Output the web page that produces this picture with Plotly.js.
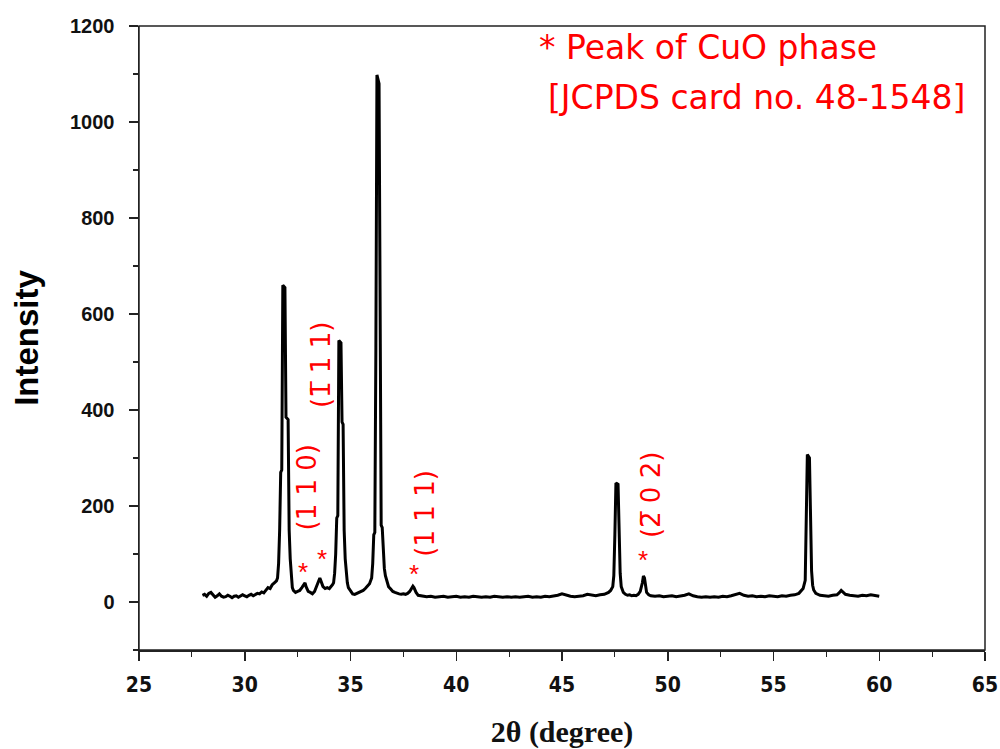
<!DOCTYPE html>
<html>
<head>
<meta charset="utf-8">
<script src="https://cdn.plot.ly/plotly-3.0.1.min.js"></script>
<style>html,body{margin:0;padding:0;background:#fff;}#chart{width:1000px;height:749px;}</style>
</head>
<body>
<div id="chart"></div>
<script>
// 2-theta positions (degree)
var twoTheta = [
 28.0,28.1,28.2,28.3,28.4,28.5,28.6,28.7,28.8,28.9,
 29.0,29.1,29.2,29.3,29.4,29.5,29.6,29.7,29.8,29.9,
 30.0,30.1,30.2,30.3,30.4,30.5,30.6,30.7,30.8,30.9,
 31.0,31.1,31.2,31.3,31.4,31.5,31.55,31.6,31.65,31.7,31.75,31.8,31.9,31.95,32.05,32.1,32.15,32.2,32.25,
 32.3,32.4,32.5,32.6,32.7,32.8,32.85,32.9,33.0,33.1,33.2,33.3,33.4,33.5,33.55,33.6,33.7,33.8,33.9,34.0,34.1,34.15,
 34.2,34.25,34.3,34.35,34.4,34.45,34.55,34.6,34.65,34.7,34.75,34.8,34.85,34.9,35.0,
 35.1,35.2,35.3,35.4,35.5,35.6,35.7,35.8,35.9,36.0,36.05,36.1,36.15,36.2,36.25,36.35,36.4,36.45,36.5,36.55,36.6,36.65,36.7,36.8,36.9,
 37.0,37.1,37.2,37.3,37.4,37.5,37.6,37.7,37.8,37.9,37.95,38.0,38.1,
 38.2,38.4,38.6,38.8,39.0,39.2,39.4,39.6,39.8,40.0,40.2,40.4,40.6,40.8,41.0,41.2,41.4,41.6,41.8,42.0,
 42.2,42.4,42.6,42.8,43.0,43.2,43.4,43.6,43.8,44.0,44.2,44.4,44.6,44.8,45.0,45.2,45.4,45.6,45.8,46.0,
 46.2,46.4,46.6,46.8,47.0,47.2,47.3,47.4,47.45,47.5,47.55,47.65,47.7,47.75,47.8,47.9,
 48.0,48.1,48.2,48.3,48.4,48.5,48.6,48.7,48.8,48.85,48.9,48.95,49.0,49.1,49.2,49.4,49.6,49.8,
 50.0,50.2,50.4,50.6,50.8,51.0,51.2,51.4,51.6,51.8,52.0,52.2,52.4,52.6,52.8,53.0,53.2,53.4,53.6,53.8,
 54.0,54.2,54.4,54.6,54.8,55.0,55.2,55.4,55.6,55.8,56.0,56.2,56.3,56.4,56.5,56.55,56.6,56.7,56.75,56.8,56.85,56.9,
 57.0,57.1,57.2,57.4,57.6,57.8,58.0,58.1,58.2,58.3,58.4,58.6,58.8,59.0,59.2,59.4,59.6,59.8,60.0
];
// Intensity (a.u.)
var intensity = [
 14,16,12,18,20,14,10,13,17,12,
 10,11,14,12,9,12,13,10,12,15,
 13,11,14,16,13,15,18,17,21,19,
 24,30,28,36,40,44,50,80,150,270,275,660,655,385,380,150,90,45,30,
 24,20,22,24,30,36,40,32,22,20,17,22,35,45,50,44,32,28,30,28,32,36,
 40,60,100,175,180,545,540,375,370,150,90,58,40,30,22,
 17,16,18,20,22,24,28,32,38,50,80,140,145,530,1098,1080,540,160,155,95,70,55,48,32,27,
 22,20,18,17,16,17,16,18,22,28,33,30,20,
 14,12,11,12,10,11,12,10,11,12,10,11,10,12,11,10,11,10,12,11,
 10,11,10,11,10,11,12,10,11,10,12,11,12,14,17,14,12,11,12,13,
 16,14,13,15,16,20,24,32,55,140,248,245,135,60,32,20,
 16,14,15,13,14,13,16,22,40,54,50,32,20,15,13,12,13,11,
 12,13,11,12,14,17,13,11,10,11,10,11,10,12,11,13,15,18,14,12,
 13,11,12,11,13,12,11,13,12,14,15,18,22,28,45,150,307,300,155,65,35,25,
 18,16,14,13,12,14,15,19,24,20,16,14,13,12,14,13,15,14,12
];

// Peak labels (CuO phase)
var starX = [32.74, 33.64, 38.0, 48.83];
var starY = [62, 90, 58, 88];
var hklText = ["(1 1 0)", "(1\u0305 1 1)", "(1 1 1)", "(2\u0305 0 2)"];
var hklX = [32.93, 33.64, 38.52, 49.24];
var hklY = [238, 493, 184, 222];

var yTicks = [0, 200, 400, 600, 800, 1000, 1200];
var xTicks = [25, 30, 35, 40, 45, 50, 55, 60, 65];

var annotations = [];
for (var i = 0; i < starX.length; i++) {
  annotations.push({x: starX[i], y: starY[i], xref: 'x', yref: 'y', text: '*', showarrow: false,
    font: {family: 'Liberation Sans, Arial, sans-serif', size: 26, color: '#ff0000'}});
}
for (var j = 0; j < hklText.length; j++) {
  annotations.push({x: hklX[j], y: hklY[j], xref: 'x', yref: 'y', text: hklText[j], showarrow: false,
    textangle: -90, font: {family: 'DejaVu Sans, sans-serif', size: 26, color: '#ff0000'}});
}
annotations.push({x: 0.471, y: 0.965, xref: 'paper', yref: 'paper', xanchor: 'left', yanchor: 'middle',
  text: '* Peak of CuO phase', showarrow: false,
  font: {family: 'DejaVu Sans, sans-serif', size: 33, color: '#ff0000'}});
annotations.push({x: 0.481, y: 0.886, xref: 'paper', yref: 'paper', xanchor: 'left', yanchor: 'middle',
  text: '[JCPDS card no. 48-1548]', showarrow: false,
  font: {family: 'DejaVu Sans, sans-serif', size: 33, color: '#ff0000'}});

var trace = {
  x: twoTheta, y: intensity, type: 'scatter', mode: 'lines',
  line: {color: '#000000', width: 3, shape: 'linear'}, showlegend: false, hoverinfo: 'skip'
};

var layout = {
  width: 1000, height: 749,
  margin: {l: 139, r: 15, t: 26, b: 99},
  paper_bgcolor: '#ffffff', plot_bgcolor: '#ffffff',
  showlegend: false,
  xaxis: {
    range: [25, 65], tickvals: xTicks, ticktext: xTicks.map(String),
    ticks: 'outside', ticklen: 9, tickwidth: 1.5, tickcolor: '#222', ticklabelstandoff: 6,
    minor: {dtick: 2.5, ticks: 'outside', ticklen: 5, tickwidth: 1.2, tickcolor: '#222', showgrid: false},
    showgrid: false, zeroline: false, showline: true, linecolor: '#222', linewidth: 1.5, mirror: false,
    tickfont: {family: 'Liberation Sans Narrow, DejaVu Sans Condensed, Arial Narrow, sans-serif', size: 21, color: '#111', weight: 'bold'},
    title: {text: '<b>2θ (degree)</b>', standoff: 31, font: {family: 'Liberation Serif, DejaVu Serif, serif', size: 30, color: '#111'}}
  },
  yaxis: {
    range: [-100, 1200], tickvals: yTicks, ticktext: yTicks.map(String),
    ticks: 'outside', ticklen: 9, tickwidth: 1.5, tickcolor: '#222', ticklabelstandoff: 10,
    minor: {dtick: 100, ticks: 'outside', ticklen: 5, tickwidth: 1.2, tickcolor: '#222', showgrid: false},
    showgrid: false, zeroline: false, showline: true, linecolor: '#222', linewidth: 1.5, mirror: false,
    tickfont: {family: 'Liberation Sans, Arial, sans-serif', size: 20, color: '#111', weight: 'bold'},
    title: {text: '<b>Intensity</b>', standoff: 21, font: {family: 'Liberation Sans, Arial, sans-serif', size: 33, color: '#000'}}
  },
  shapes: [{type: 'rect', xref: 'paper', yref: 'paper', x0: 0, x1: 1, y0: 0, y1: 1,
    line: {color: '#222', width: 1.5}, fillcolor: 'rgba(0,0,0,0)', layer: 'above'}],
  annotations: annotations
};

Plotly.newPlot('chart', [trace], layout, {staticPlot: true, displayModeBar: false});
</script>
</body>
</html>
